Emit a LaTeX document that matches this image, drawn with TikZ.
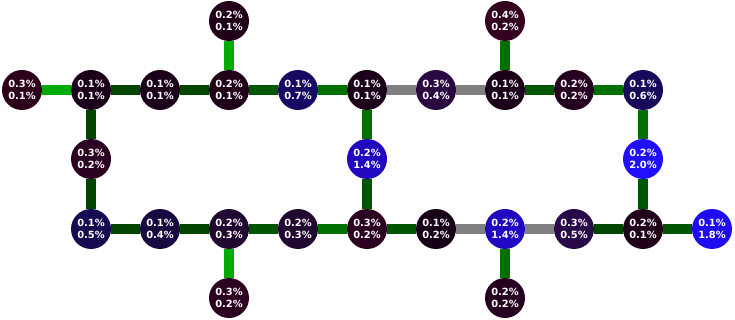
\documentclass[tikz,border=0pt]{standalone}
\usepackage{fontspec}
\usepackage{xcolor}
\usepackage{tikz}
\usetikzlibrary{backgrounds}
\newfontfamily\statfont{DejaVu Sans}
% node fills
\definecolor{plumdeep}{HTML}{1A0018}
\definecolor{plumlow}{HTML}{180018}
\definecolor{plumA}{HTML}{200018}
\definecolor{plumB}{HTML}{2B0018}
\definecolor{plumC}{HTML}{2C0020}
\definecolor{plumD}{HTML}{330020}
\definecolor{plumE}{HTML}{260020}
\definecolor{violetA}{HTML}{180840}
\definecolor{violetB}{HTML}{180A50}
\definecolor{violetC}{HTML}{180A58}
\definecolor{violetD}{HTML}{180A62}
\definecolor{violetE}{HTML}{200830}
\definecolor{violetF}{HTML}{2A0840}
\definecolor{violetG}{HTML}{280A48}
\definecolor{blueA}{HTML}{2008C0}
\definecolor{blueB}{HTML}{200AF0}
\definecolor{blueC}{HTML}{2010FF}
% link colours
\definecolor{linkbright}{HTML}{00AA00}
\definecolor{linkdark}{HTML}{004400}
\definecolor{linkmid}{HTML}{005600}
\definecolor{linkgreen}{HTML}{007000}
\definecolor{linkgray}{HTML}{808080}
\tikzset{
    statnode/.style={circle,minimum size=40pt,inner sep=0pt,text=white,
      font=\statfont\bfseries\fontsize{9.9}{11.7}\selectfont,align=center},
    link/.style={line width=10pt}
}

\begin{document}
\begin{tikzpicture}[x=1pt,y=-1pt]
  \useasboundingbox (0,0) rectangle (735,320);
  % top row
  \node[statnode,fill=plumA] (t3) at (229,21) {0.2\%\\0.1\%};
  \node[statnode,fill=plumD] (t7) at (505,21) {0.4\%\\0.2\%};
  % upper row
  \node[statnode,fill=plumB] (u0) at (22,90) {0.3\%\\0.1\%};
  \node[statnode,fill=plumdeep] (u1) at (91,90) {0.1\%\\0.1\%};
  \node[statnode,fill=plumdeep] (u2) at (160,90) {0.1\%\\0.1\%};
  \node[statnode,fill=plumA] (u3) at (229,90) {0.2\%\\0.1\%};
  \node[statnode,fill=violetD] (u4) at (298,90) {0.1\%\\0.7\%};
  \node[statnode,fill=plumdeep] (u5) at (367,90) {0.1\%\\0.1\%};
  \node[statnode,fill=violetF] (u6) at (436,90) {0.3\%\\0.4\%};
  \node[statnode,fill=plumdeep] (u7) at (505,90) {0.1\%\\0.1\%};
  \node[statnode,fill=plumE] (u8) at (574,90) {0.2\%\\0.2\%};
  \node[statnode,fill=violetC] (u9) at (643,90) {0.1\%\\0.6\%};
  % middle row
  \node[statnode,fill=plumC] (m1) at (91,159) {0.3\%\\0.2\%};
  \node[statnode,fill=blueA] (m5) at (367,159) {0.2\%\\1.4\%};
  \node[statnode,fill=blueC] (m9) at (643,159) {0.2\%\\2.0\%};
  % lower row
  \node[statnode,fill=violetB] (l1) at (91,229) {0.1\%\\0.5\%};
  \node[statnode,fill=violetA] (l2) at (160,229) {0.1\%\\0.4\%};
  \node[statnode,fill=violetE] (l3) at (229,229) {0.2\%\\0.3\%};
  \node[statnode,fill=violetE] (l4) at (298,229) {0.2\%\\0.3\%};
  \node[statnode,fill=plumC] (l5) at (367,229) {0.3\%\\0.2\%};
  \node[statnode,fill=plumlow] (l6) at (436,229) {0.1\%\\0.2\%};
  \node[statnode,fill=blueA] (l7) at (505,229) {0.2\%\\1.4\%};
  \node[statnode,fill=violetG] (l8) at (574,229) {0.3\%\\0.5\%};
  \node[statnode,fill=plumA] (l9) at (643,229) {0.2\%\\0.1\%};
  \node[statnode,fill=blueB] (l10) at (712,229) {0.1\%\\1.8\%};
  % bottom row
  \node[statnode,fill=plumC] (b3) at (229,298) {0.3\%\\0.2\%};
  \node[statnode,fill=plumE] (b7) at (505,298) {0.2\%\\0.2\%};

  \begin{scope}[on background layer]
    \draw[link,linkbright] (u0) -- (u1);
    \draw[link,linkdark] (u1) -- (u2);
    \draw[link,linkdark] (u2) -- (u3);
    \draw[link,linkbright] (t3) -- (u3);
    \draw[link,linkmid] (u3) -- (u4);
    \draw[link,linkgreen] (u4) -- (u5);
    \draw[link,linkgray] (u5) -- (u6);
    \draw[link,linkgray] (u6) -- (u7);
    \draw[link,linkgreen] (t7) -- (u7);
    \draw[link,linkmid] (u7) -- (u8);
    \draw[link,linkgreen] (u8) -- (u9);
    \draw[link,linkdark] (u1) -- (m1);
    \draw[link,linkdark] (m1) -- (l1);
    \draw[link,linkgreen] (u5) -- (m5);
    \draw[link,linkmid] (m5) -- (l5);
    \draw[link,linkgreen] (u9) -- (m9);
    \draw[link,linkmid] (m9) -- (l9);
    \draw[link,linkdark] (l1) -- (l2);
    \draw[link,linkdark] (l2) -- (l3);
    \draw[link,linkmid] (l3) -- (l4);
    \draw[link,linkgreen] (l4) -- (l5);
    \draw[link,linkmid] (l5) -- (l6);
    \draw[link,linkgray] (l6) -- (l7);
    \draw[link,linkgray] (l7) -- (l8);
    \draw[link,linkdark] (l8) -- (l9);
    \draw[link,linkmid] (l9) -- (l10);
    \draw[link,linkbright] (l3) -- (b3);
    \draw[link,linkgreen] (l7) -- (b7);
  \end{scope}
\end{tikzpicture}
\end{document}
